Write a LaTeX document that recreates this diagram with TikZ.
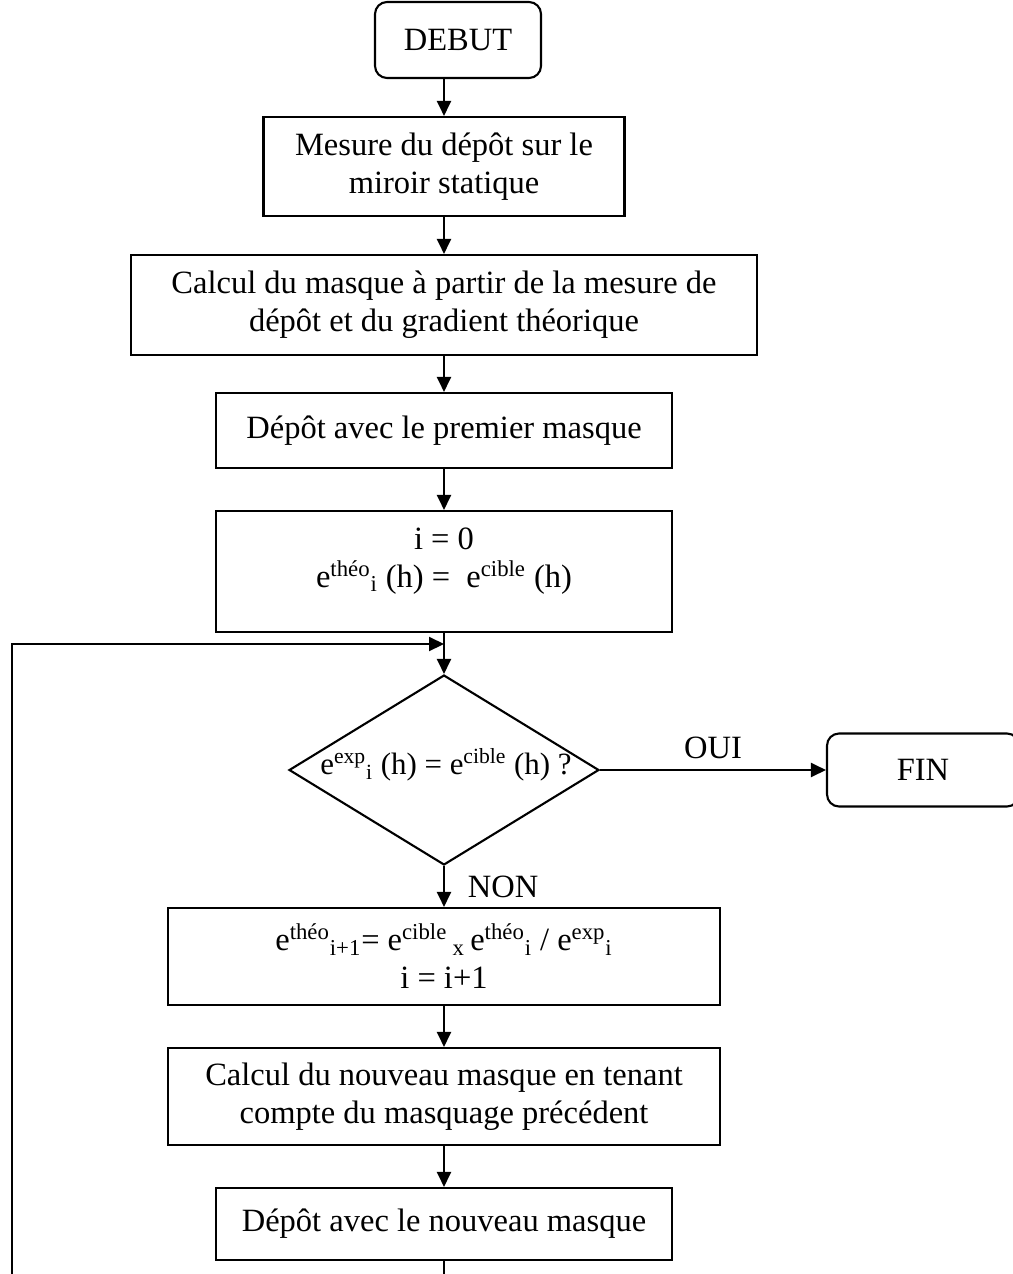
\documentclass[tikz,border=0pt]{standalone}
\usepackage{fontspec}
\setmainfont{Liberation Serif}
\usetikzlibrary{shapes.geometric,arrows.meta}

\tikzset{
  box/.style={draw,line width=1.2pt,inner sep=0pt,align=center},
  endbox/.style={box,rounded corners=0.24cm},
  decision/.style={draw,diamond,line width=1.2pt,inner sep=0pt},
  flow/.style={line width=1.2pt,-{Triangle[length=0.3cm,width=0.28cm]}},
}

\begin{document}
\begin{tikzpicture}[x=0.02cm,y=-0.02cm,line join=miter,font=\fontsize{18.5}{21.6}\selectfont]
\useasboundingbox (0,0) rectangle (1012,1274);

% first steps
\node[endbox,minimum width=3.32cm,minimum height=1.52cm] (debut) at (458,40) {DEBUT};
\node[box,minimum width=7.22cm,minimum height=1.98cm] (mesure) at (444,166.5)
  {Mesure du dépôt sur le\\miroir statique};
\node[box,minimum width=12.52cm,minimum height=2.0cm] (calcul) at (444,305)
  {Calcul du masque à partir de la mesure de\\dépôt et du gradient théorique};
\node[box,minimum width=9.12cm,minimum height=1.5cm] (premier) at (444,430.5)
  {Dépôt avec le premier masque};
\node[box,minimum width=9.12cm,minimum height=2.42cm] (init) at (444,571.5) {};
\node[align=center,inner sep=0pt] (initTxt) at (444,561)
  {i = 0\\e\textsuperscript{théo}\textsubscript{i} (h) =\ \ e\textsuperscript{cible} (h)};

\draw[flow] (debut.south -| mesure.north) -- (mesure.north);
\draw[flow] (mesure) -- (calcul);
\draw[flow] (calcul) -- (premier);
\draw[flow] (premier) -- (init);

% test
\node[decision,minimum width=6.2cm,minimum height=3.8cm] (test) at (444,770) {};
\node[inner sep=0pt,font=\fontsize{17.6}{21}\selectfont] (testTxt) at (446,765)
  {e\textsuperscript{exp}\textsubscript{i} (h) = e\textsuperscript{cible} (h) ?};
\node[endbox,minimum width=3.84cm,minimum height=1.46cm] (fin) at (923,770) {FIN};

\draw[flow] (init.south) -- (test.north);
\draw[flow] (test.east) -- node[above,inner sep=0.2cm] {OUI} (fin.west);

% loop body
\node[box,minimum width=11.04cm,minimum height=1.94cm] (maj) at (444,956.5)
  {e\textsuperscript{théo}\textsubscript{i+1}= e\textsuperscript{cible}\,\textsubscript{x}\,e\textsuperscript{théo}\textsubscript{i} / e\textsuperscript{exp}\textsubscript{i}\\i = i+1};
\node[box,minimum width=11.04cm,minimum height=1.94cm] (nouveau) at (444,1096.5)
  {Calcul du nouveau masque en tenant\\compte du masquage précédent};
\node[box,minimum width=9.12cm,minimum height=1.44cm] (depot) at (444,1224)
  {Dépôt avec le nouveau masque};

\draw[flow] (test.south) -- node[right,xshift=0.34cm] {NON} (maj.north);
\draw[flow] (maj) -- (nouveau);
\draw[flow] (nouveau) -- (depot);

% back to the test
\coordinate (join) at (444,644);
\coordinate (loopL) at (12,644);
\coordinate (bottomL) at (12,1274);
\coordinate (bottomC) at (444,1274);
\draw[line width=1.2pt] (depot.south) -- (bottomC);
\draw[flow] (bottomL) -- (loopL) -- (join);

\end{tikzpicture}
\end{document}
